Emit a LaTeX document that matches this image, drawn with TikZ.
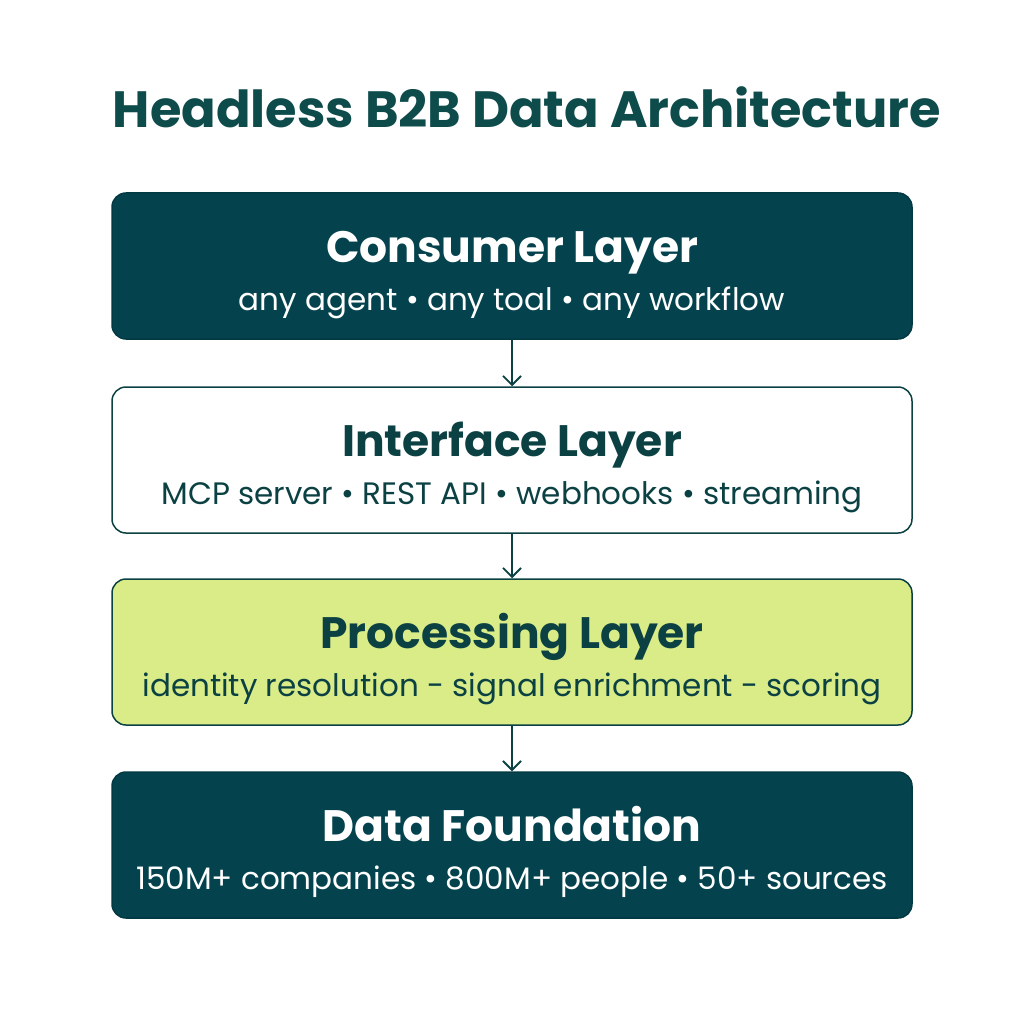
\documentclass[tikz,border=0pt]{standalone}
\usepackage{fontspec}
\setmainfont{Poppins}
\usepackage{tikz}
\usetikzlibrary{arrows.meta}
\definecolor{deepteal}{HTML}{04434E}
\definecolor{inkteal}{HTML}{0B4143}
\definecolor{headteal}{HTML}{0E4B4B}
\definecolor{limewash}{HTML}{D9EC88}

\begin{document}
\begin{tikzpicture}[x=1pt,y=-1pt]
    % --- DEFINE STYLES ---
    % Style for every layer box
    \tikzstyle{layer} = [rectangle, rounded corners=14pt, minimum width=800pt, minimum height=146pt, line width=1.5pt, draw=inkteal, text=inkteal]
    % Style for dark (outer) layers
    \tikzstyle{dark_layer} = [layer, fill=deepteal, draw=deepteal!85!black, text=white]
    % Style for the white interface layer
    \tikzstyle{light_layer} = [layer, fill=white]
    % Style for the green processing layer
    \tikzstyle{lime_layer} = [layer, fill=limewash]
    % Text styles
    \tikzstyle{headline} = [anchor=base, font=\fontsize{44}{52}\selectfont\bfseries]
    \tikzstyle{subline} = [anchor=base, font=\fontsize{31}{37}\selectfont]
    % Style for the arrows between layers
    \tikzstyle{flow} = [-{Straight Barb[length=9pt,width=18pt]}, line width=1.8pt, draw=inkteal]

    \useasboundingbox (0,0) rectangle (1024,1024);

    % Title
    \node[font=\fontsize{51}{60}\selectfont\bfseries, text=headteal] (title) at (527,107) {Headless B2B Data Architecture};

    % --- DRAW LAYERS ---
    \foreach \n/\y/\s/\t/\sub in {
        consumer/266/dark_layer/Consumer Layer/any agent • any toal • any workflow,
        interface/460/light_layer/Interface Layer/MCP server • REST API • webhooks • streaming,
        processing/652/lime_layer/Processing Layer/identity resolution - signal enrichment - scoring,
        foundation/845/dark_layer/Data Foundation/150M+ companies • 800M+ people • 50+ sources} {
        % Box, then its two lines of text
        \node[\s] (\n) at (512,\y) {};
        \node[\s, draw=none, fill=none, headline] (\n_title) at (512,\y-4) {\t};
        \node[\s, draw=none, fill=none, subline] (\n_sub) at (512,\y+44) {\sub};
    }

    % Arrows between layers
    \foreach \a/\b in {consumer/interface, interface/processing, processing/foundation}
        \draw[flow] (\a) -- (\b);
\end{tikzpicture}
\end{document}
